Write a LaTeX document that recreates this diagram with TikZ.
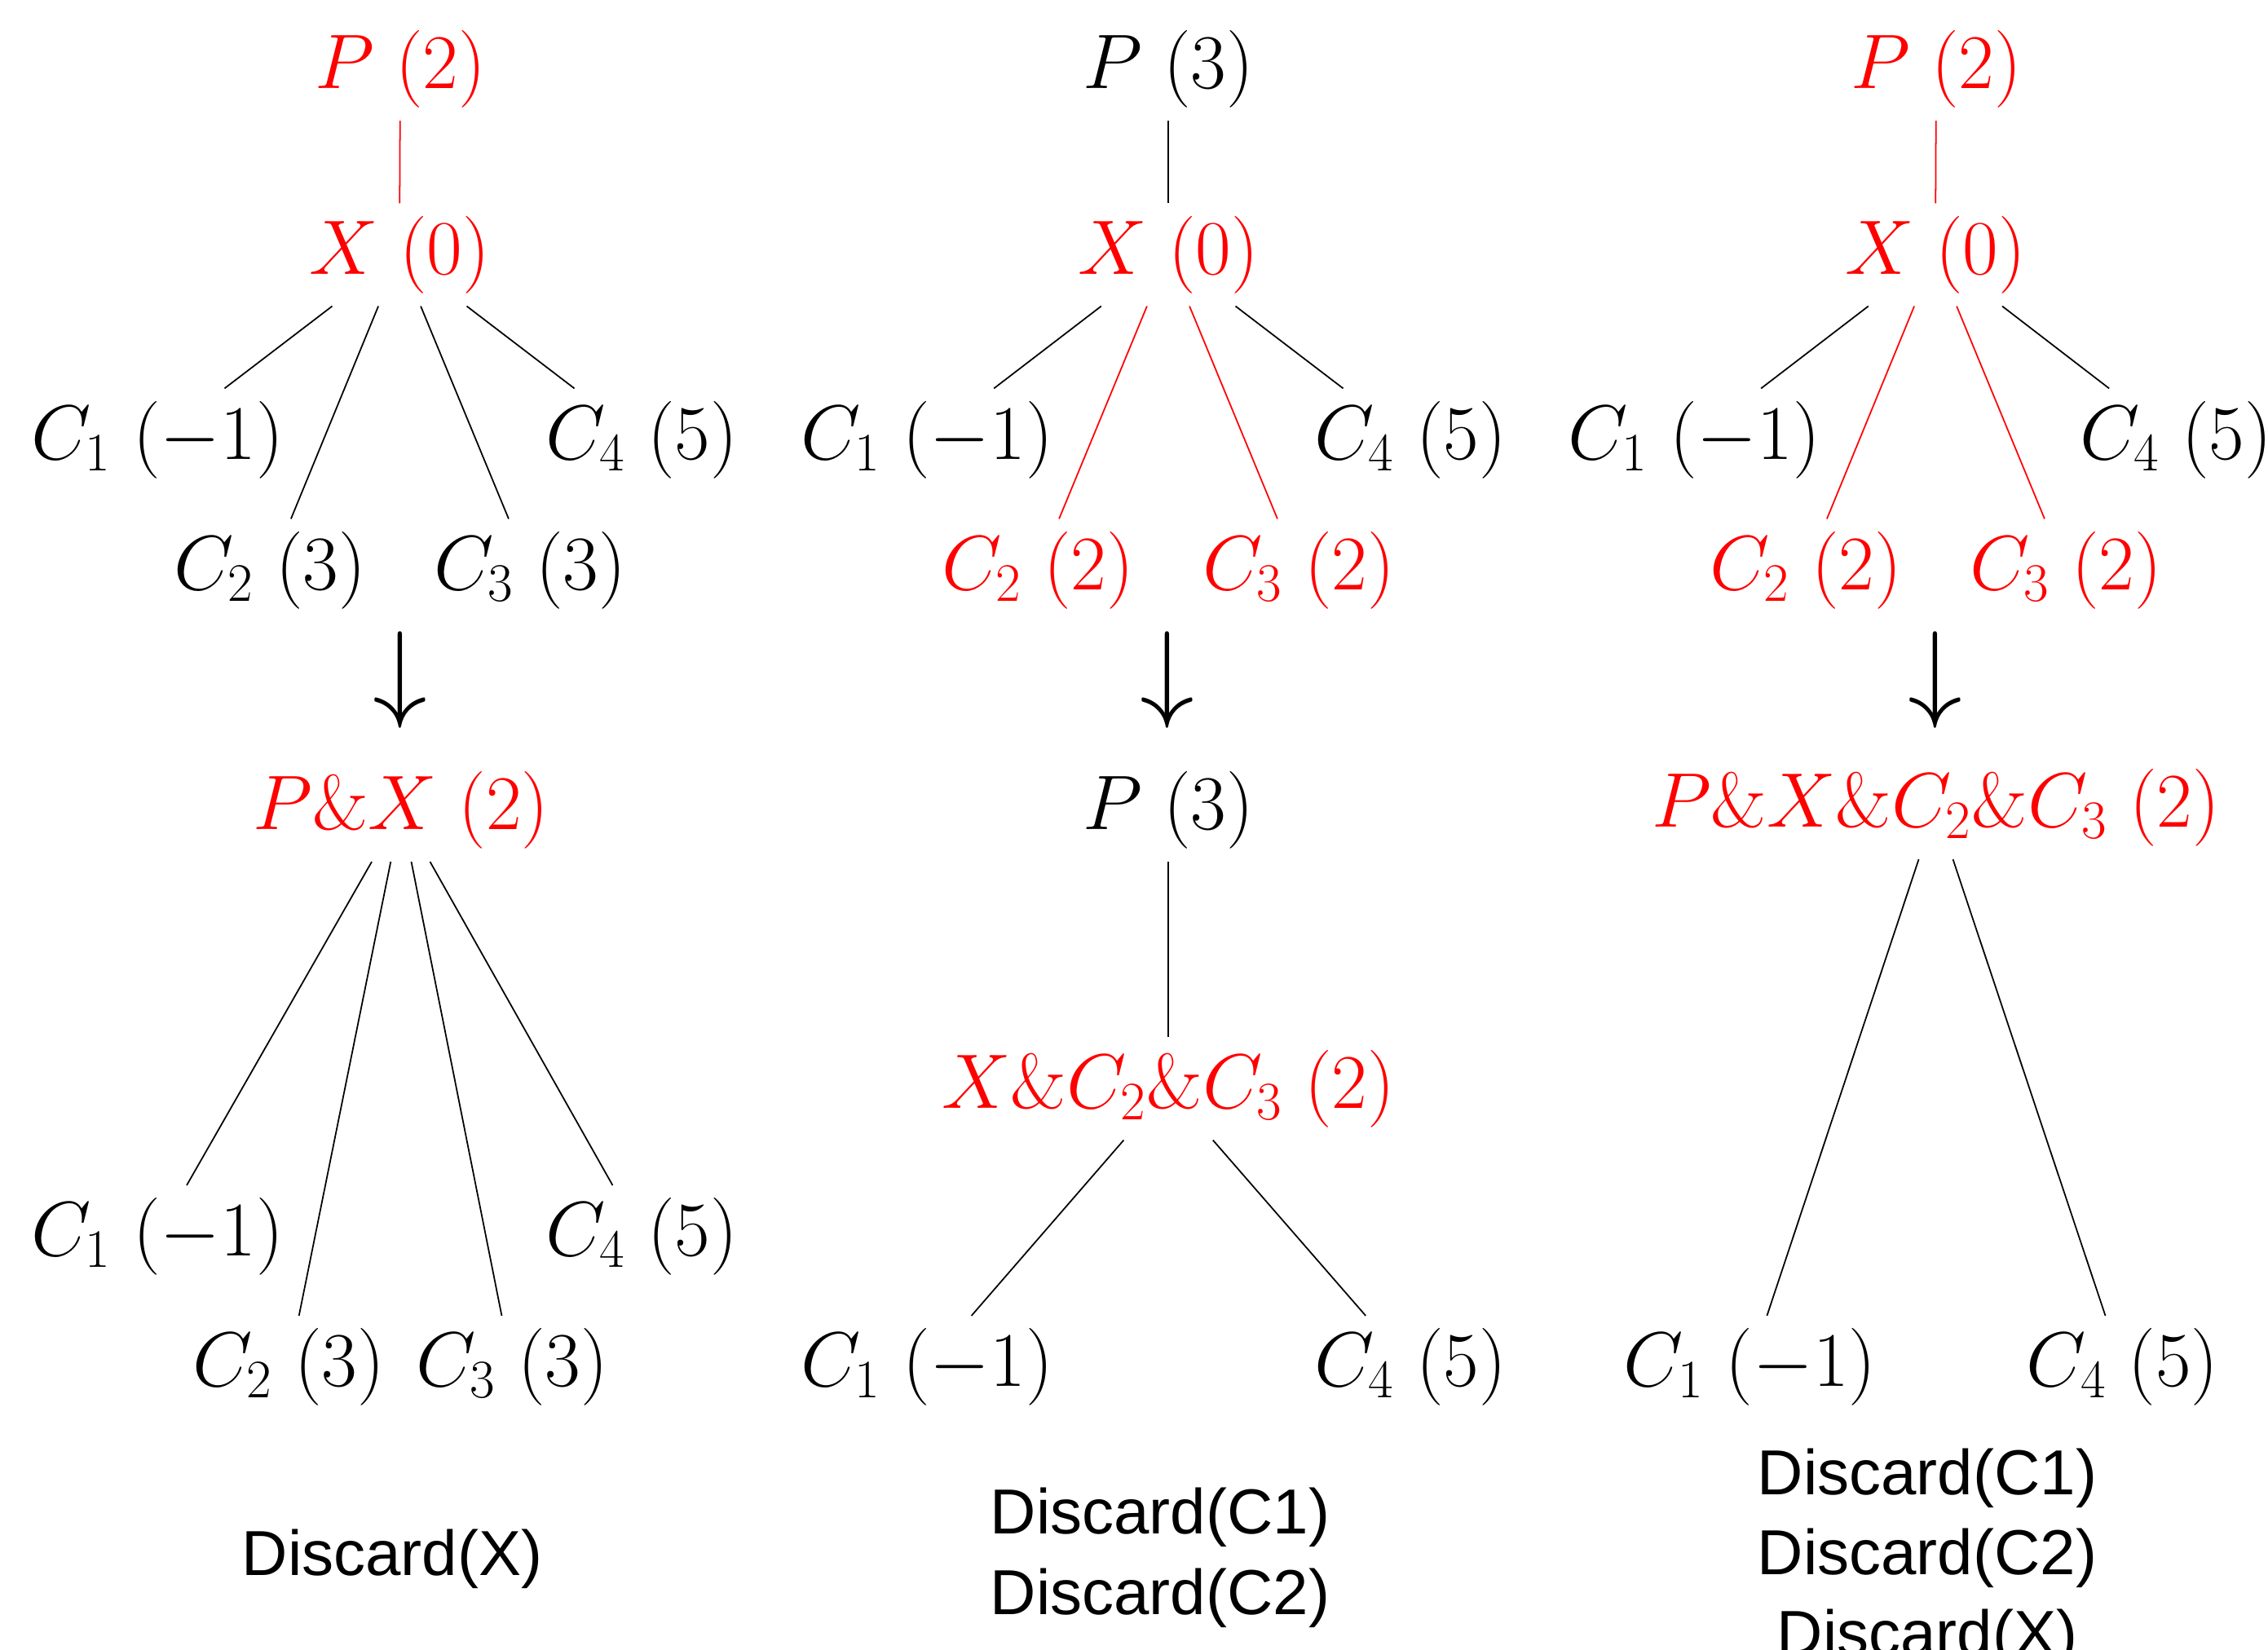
\RequirePackage{fix-cm}
\documentclass[tikz,border=0pt]{standalone}
\usepackage{fontspec}
\usepackage{xcolor}
\usepackage{tikz}
\usetikzlibrary{positioning}
\newfontfamily\discfont{Liberation Sans}
\definecolor{Pick}{HTML}{FF0000}

\begin{document}
\begin{tikzpicture}[
  x=1cm,y=1cm,
  tn/.style={inner sep=0.15cm,font=\fontsize{27}{32}\selectfont},
  hot/.style={tn,text=Pick},
  link/.style={line width=0.5pt},
  hotlink/.style={link,draw=Pick},
  down/.style={inner sep=0pt,font=\fontsize{38}{44}\selectfont},
  discard/.style={anchor=base,align=center,inner sep=0pt,font=\discfont\fontsize{22.2}{28}\selectfont}
]
\useasboundingbox (0,0) rectangle (27.82,-20.23);
\clip (0,0) rectangle (27.82,-20.23);

% left column: discard X
\node[hot] (p1) at (4.91,-0.85) {$P\;(2)$};
\node[hot] (x1) at (4.90,-3.125) {$X\;(0)$};
\node[tn] (c11) at (1.93,-5.395) {$C_1\;(-1)$};
\node[tn] (c12) at (3.31,-6.995) {$C_2\;(3)$};
\node[tn] (c13) at (6.50,-6.995) {$C_3\;(3)$};
\node[tn] (c14) at (7.87,-5.395) {$C_4\;(5)$};
\node[down] (arr1) at (4.91,-8.345) {$\downarrow$};
\node[hot] (px1) at (4.92,-9.94) {$P\&X\;(2)$};
\node[tn] (d11) at (1.93,-15.17) {$C_1\;(-1)$};
\node[tn] (d12) at (3.54,-16.77) {$C_2\;(3)$};
\node[tn] (d13) at (6.28,-16.77) {$C_3\;(3)$};
\node[tn] (d14) at (7.87,-15.17) {$C_4\;(5)$};
\node[discard] (disc1) at (4.81,-19.32) {Discard(X)};

\draw[hotlink] (p1) -- (x1);
\foreach \c in {c11,c12,c13,c14} \draw[link] (x1) -- (\c);
\foreach \c in {d11,d12,d13,d14} \draw[link] (px1) -- (\c);

% middle column: discard C1 and C2
\node[tn] (p2) at (14.33,-0.85) {$P\;(3)$};
\node[hot] (x2) at (14.33,-3.125) {$X\;(0)$};
\node[tn] (c21) at (11.37,-5.395) {$C_1\;(-1)$};
\node[hot] (c22) at (12.73,-6.995) {$C_2\;(2)$};
\node[hot] (c23) at (15.93,-6.995) {$C_3\;(2)$};
\node[tn] (c24) at (17.30,-5.395) {$C_4\;(5)$};
\node[down] (arr2) at (14.32,-8.345) {$\downarrow$};
\node[tn] (q2) at (14.33,-9.94) {$P\;(3)$};
\node[hot] (xc2) at (14.33,-13.355) {$X\&C_2\&C_3\;(2)$};
\node[tn] (d21) at (11.37,-16.77) {$C_1\;(-1)$};
\node[tn] (d24) at (17.30,-16.77) {$C_4\;(5)$};
\node[discard] (disc2) at (14.23,-19.80) {Discard(C1)\\Discard(C2)};

\draw[link] (p2) -- (x2);
\draw[link] (x2) -- (c21);
\draw[link] (x2) -- (c24);
\draw[hotlink] (x2) -- (c22);
\draw[hotlink] (x2) -- (c23);
\draw[link] (q2) -- (xc2);
\draw[link] (xc2) -- (d21);
\draw[link] (xc2) -- (d24);

% right column: discard C1, C2 and X
\node[hot] (p3) at (23.75,-0.85) {$P\;(2)$};
\node[hot] (x3) at (23.74,-3.125) {$X\;(0)$};
\node[tn] (c31) at (20.78,-5.395) {$C_1\;(-1)$};
\node[hot] (c32) at (22.15,-6.995) {$C_2\;(2)$};
\node[hot] (c33) at (25.34,-6.995) {$C_3\;(2)$};
\node[tn] (c34) at (26.69,-5.395) {$C_4\;(5)$};
\node[down] (arr3) at (23.74,-8.345) {$\downarrow$};
\node[hot] (pxc3) at (23.745,-9.91) {$P\&X\&C_2\&C_3\;(2)$};
\node[tn] (d31) at (21.465,-16.77) {$C_1\;(-1)$};
\node[tn] (d34) at (26.035,-16.77) {$C_4\;(5)$};
\node[discard] (disc3) at (23.64,-20.30) {Discard(C1)\\Discard(C2)\\Discard(X)};

\draw[hotlink] (p3) -- (x3);
\draw[link] (x3) -- (c31);
\draw[link] (x3) -- (c34);
\draw[hotlink] (x3) -- (c32);
\draw[hotlink] (x3) -- (c33);
\draw[link] (pxc3) -- (d31);
\draw[link] (pxc3) -- (d34);
\end{tikzpicture}
\end{document}
